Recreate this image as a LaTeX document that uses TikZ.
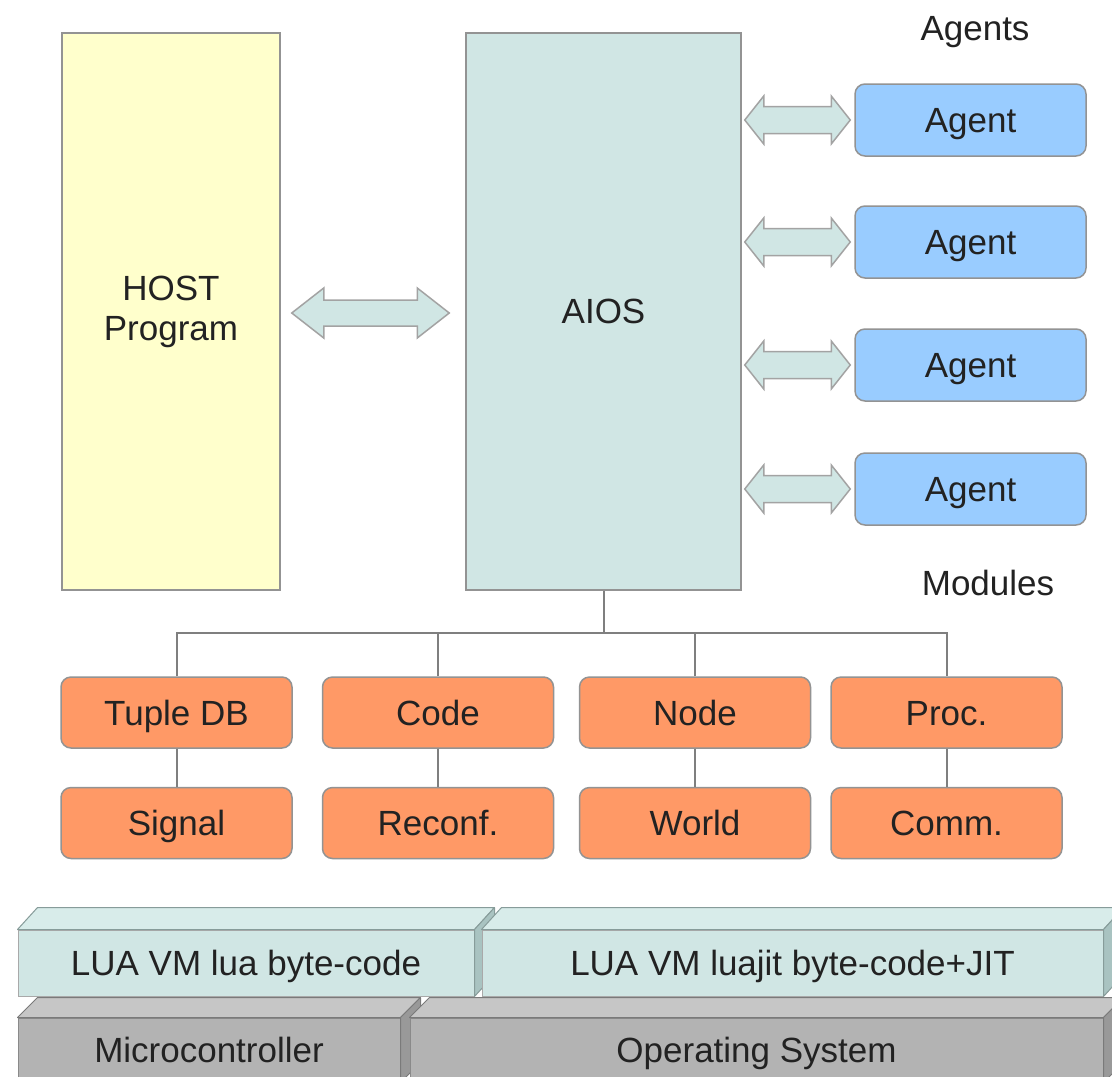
\documentclass[tikz,border=0pt]{standalone}
\usepackage{fontspec}
\setmainfont{Liberation Sans}
\usetikzlibrary{calc}

\definecolor{hostfill}{HTML}{FFFFCC}
\definecolor{aiosfill}{HTML}{D0E6E4}
\definecolor{agentfill}{HTML}{99CCFF}
\definecolor{modfill}{HTML}{FF9966}
\definecolor{edgegray}{HTML}{939393}
\definecolor{treegray}{HTML}{7F7F7F}
\definecolor{inkgray}{HTML}{222222}
\definecolor{vmfront}{HTML}{D0E6E4}
\definecolor{vmtop}{HTML}{D8ECEA}
\definecolor{vmside}{HTML}{A9C3C1}
\definecolor{hwfront}{HTML}{B3B3B3}
\definecolor{hwtop}{HTML}{C6C6C6}
\definecolor{hwside}{HTML}{999999}

% horizontal double block arrow between two tips:
% #1 left tip, #2 right tip, #3 head length, #4 head half height, #5 shaft half height
\newcommand\dblblock[5]{%
  \draw[blockarrow] let \p1=#1, \p2=#2 in
    (\x1,\y1) -- (\x1+#3,\y1+#4) -- (\x1+#3,\y1+#5) -- (\x2-#3,\y1+#5)
    -- (\x2-#3,\y1+#4) -- (\x2,\y1) -- (\x2-#3,\y1-#4) -- (\x2-#3,\y1-#5)
    -- (\x1+#3,\y1-#5) -- (\x1+#3,\y1-#4) -- cycle;}

\begin{document}
\begin{tikzpicture}[x=0.5pt,y=-0.5pt,
  font=\fontsize{17.5pt}{20pt}\selectfont, text=inkgray,
  plain/.style={draw=edgegray, line width=0.75pt, inner sep=0pt},
  capline/.style={text height=12.5pt, text depth=0pt},
  bigbox/.style={plain, minimum width=#1, minimum height=278.5pt, align=center},
  agent/.style={plain, capline, rounded corners=5pt, fill=agentfill,
    minimum width=115.5pt, minimum height=36pt},
  module/.style={plain, capline, rounded corners=5pt, fill=modfill,
    minimum width=115.5pt, minimum height=35.5pt},
  tree/.style={draw=treegray, line width=1pt},
  blockarrow/.style={draw=edgegray!85, fill=aiosfill, line width=0.75pt, line join=miter},
  vmbox/.style={capline, draw=edgegray!80, line width=0.5pt, fill=vmfront, inner sep=0pt},
  hwbox/.style={capline, draw=hwside!90!black, line width=0.5pt, fill=hwfront, inner sep=0pt},
  face/.style={draw=#1!80!black, line width=0.5pt, line join=round}
]
\clip (0,0) rectangle (1112,1076);
\fill[white] (0,0) rectangle (1112,1076);

% main blocks
\node[bigbox=109pt, fill=hostfill] (host) at (171,311.5) {HOST\\[0pt]Program};
\node[bigbox=137.5pt, fill=aiosfill] (aios) at (603.5,311.5) {AIOS};

% agents
\node (agentslabel) at (975,32) {Agents};
\node[agent] (ag1) at (970.5,120) {Agent};
\node[agent] (ag2) at (970.5,242) {Agent};
\node[agent] (ag3) at (970.5,365) {Agent};
\node[agent] (ag4) at (970.5,489) {Agent};

% block arrows
\dblblock{($(host.east)+(11,1.5)$)}{($(aios.west)+(-16,1.5)$)}{16pt}{12.5pt}{6.5pt}
\foreach \a in {ag1,ag2,ag3,ag4}{
  \dblblock{($(aios.east |- \a)+(3,0)$)}{($(\a.west)+(-4,0)$)}{9.5pt}{12pt}{6.75pt}
}

% modules
\node (modlabel) at (988,583) {Modules};
\node[module] (tuple)  at (176.5,712.5) {Tuple DB};
\node[module] (code)   at (438,712.5)   {Code};
\node[module] (nodem)  at (695,712.5)   {Node};
\node[module] (proc)   at (946.5,712.5) {Proc.};
\node[module] (signal) at (176.5,823)   {Signal};
\node[module] (reconf) at (438,823)     {Reconf.};
\node[module] (world)  at (695,823)     {World};
\node[module] (comm)   at (946.5,823)   {Comm.};

\coordinate (bus) at ($(aios.south)+(0,42)$);
\draw[tree] (aios.south) -- (bus);
\draw[tree] (tuple.north) |- (proc.north |- bus) -- (proc.north);
\draw[tree] (code.north) -- (code.north |- bus);
\draw[tree] (nodem.north) -- (nodem.north |- bus);
\draw[tree] (tuple) -- (signal);
\draw[tree] (code) -- (reconf);
\draw[tree] (nodem) -- (world);
\draw[tree] (proc) -- (comm);

% hardware layer (3D slabs)
\node[hwbox, minimum width=191pt, minimum height=32pt] (mcu) at (209,1050) {Microcontroller};
\filldraw[face=hwside, fill=hwtop] (mcu.north west) -- ++(20,-20)
  -- ($(mcu.north east)+(20,-20)$) -- (mcu.north east) -- cycle;
\filldraw[face=hwside, fill=hwside] (mcu.north east) -- ++(20,-20)
  -- ($(mcu.south east)+(20,-20)$) -- (mcu.south east) -- cycle;

\node[hwbox, minimum width=346.5pt, minimum height=32pt] (os) at (756.5,1050) {Operating System};
\filldraw[face=hwside, fill=hwtop] (os.north west) -- ++(20,-20)
  -- ($(os.north east)+(20,-20)$) -- (os.north east) -- cycle;
\filldraw[face=hwside, fill=hwside] (os.north east) -- ++(20,-20)
  -- ($(os.south east)+(20,-20)$) -- (os.south east) -- cycle;

% virtual machine layer (3D slabs)
\node[vmbox, minimum width=228pt, minimum height=33pt] (lua1) at (246,963) {LUA VM lua byte-code};
\filldraw[face=vmside, fill=vmtop] (lua1.north west) -- ++(20,-22)
  -- ($(lua1.north east)+(20,-22)$) -- (lua1.north east) -- cycle;
\filldraw[face=vmside, fill=vmside] (lua1.north east) -- ++(20,-22)
  -- ($(lua1.south east)+(20,-22)$) -- (lua1.south east) -- cycle;

\node[vmbox, minimum width=310.5pt, minimum height=33pt] (lua2) at (792.5,963) {LUA VM luajit byte-code+JIT};
\filldraw[face=vmside, fill=vmtop] (lua2.north west) -- ++(20,-22)
  -- ($(lua2.north east)+(20,-22)$) -- (lua2.north east) -- cycle;
\filldraw[face=vmside, fill=vmside] (lua2.north east) -- ++(20,-22)
  -- ($(lua2.south east)+(20,-22)$) -- (lua2.south east) -- cycle;
\end{tikzpicture}
\end{document}
